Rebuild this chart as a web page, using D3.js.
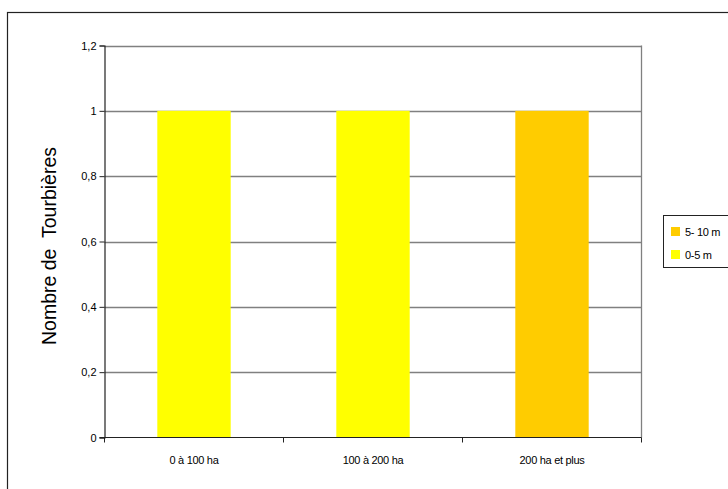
<!DOCTYPE html>
<html><head><meta charset="utf-8">
<script src="https://cdn.jsdelivr.net/npm/d3@7"></script>
<style>body{margin:0;background:#fff}svg{display:block;font-family:"Liberation Sans",Arial,sans-serif}</style>
</head><body>
<svg id="c" width="728" height="489"></svg>
<script>
const categories = ["0 à 100 ha", "100 à 200 ha", "200 ha et plus"];
const series05 = [1, 1, 0];
const series510 = [0, 0, 1];
const seriesNames = ["0-5 m", "5- 10 m"];
const seriesColors = ["#FFFF00", "#FFCC00"];
const yTicks = [0, 0.2, 0.4, 0.6, 0.8, 1, 1.2];
const yTickLabels = ["0", "0,2", "0,4", "0,6", "0,8", "1", "1,2"];

(function () {
const svg = d3.select("#c");
svg.append("rect").attr("x", 7.5).attr("y", 12.5).attr("width", 740).attr("height", 500)
  .attr("fill", "#fff").attr("stroke", "#222").attr("stroke-width", 1.2);

const pl = 104.5, pr = 641.5, pt = 45.5, pb = 437.5;
const x = d3.scaleBand().domain(categories).range([pl, pr]).paddingInner(0.59).paddingOuter(0.295);
const xb = d3.scaleBand().domain(categories).range([pl, pr]);
const y = d3.scaleLinear().domain([0, 1.2]).range([pb, pt]);

// gridlines
svg.append("g").selectAll("line").data(yTicks.filter(d => d > 0)).join("line")
  .attr("x1", pl).attr("x2", pr).attr("y1", d => Math.round(y(d)) + 0.5).attr("y2", d => Math.round(y(d)) + 0.5)
  .attr("stroke", "#808080").attr("stroke-width", 1.3);
svg.append("line").attr("x1", pr).attr("x2", pr).attr("y1", pt).attr("y2", pb)
  .attr("stroke", "#808080").attr("stroke-width", 1.3);

// stacked bars
const stackData = categories.map((c, i) => ({cat: c, s0: series05[i], s1: series510[i]}));
const stack = d3.stack().keys(["s0", "s1"])(stackData);
svg.append("g").selectAll("g").data(stack).join("g").attr("fill", (d, i) => seriesColors[i])
  .selectAll("rect").data(d => d).join("rect")
  .attr("x", d => x(d.data.cat)).attr("width", x.bandwidth())
  .attr("y", d => y(d[1])).attr("height", d => y(d[0]) - y(d[1]));

// y axis
const yAxis = d3.axisLeft(y).tickValues(yTicks).tickFormat((d, i) => yTickLabels[i]).tickSize(5).tickPadding(3);
const gy = svg.append("g").attr("transform", `translate(${pl},0)`).call(yAxis);
gy.select(".domain").attr("stroke", "#222").attr("stroke-width", 1.2);
gy.selectAll(".tick line").attr("stroke", "#222");
gy.selectAll("text").attr("font-size", 11).attr("fill", "#000").attr("font-family", "Liberation Sans, Arial");

// x axis
const gx = svg.append("g").attr("transform", `translate(0,${pb})`);
gx.append("line").attr("x1", pl - 5).attr("x2", pr).attr("y1", 0).attr("y2", 0).attr("stroke", "#222").attr("stroke-width", 1.2);
const bounds = [pl, ...categories.map(c => xb(c) + xb.bandwidth())];
gx.selectAll(".xt").data(bounds).join("line").attr("class", "xt")
  .attr("x1", d => d).attr("x2", d => d).attr("y1", 0).attr("y2", 5).attr("stroke", "#222");
gx.selectAll(".xl").data(categories).join("text").attr("class", "xl")
  .attr("x", d => xb(d) + xb.bandwidth() / 2).attr("y", 26).attr("text-anchor", "middle")
  .attr("font-size", 11).attr("letter-spacing", -0.3).text(d => d);

// y title
svg.append("text").attr("transform", "translate(56,246) rotate(-90)").attr("text-anchor", "middle")
  .attr("font-size", 19.5).style("white-space", "pre").text("Nombre de  Tourbières");

// legend
const lg = svg.append("g");
lg.append("rect").attr("x", 663.5).attr("y", 215.5).attr("width", 80).attr("height", 52)
  .attr("fill", "#fff").attr("stroke", "#222").attr("stroke-width", 1);
const legItems = [1, 0];
legItems.forEach((si, k) => {
  lg.append("rect").attr("x", 671).attr("y", 227 + k * 23).attr("width", 9).attr("height", 9).attr("fill", seriesColors[si]);
  lg.append("text").attr("x", 685).attr("y", 235.5 + k * 23).attr("font-size", 11).attr("letter-spacing", -0.3).text(seriesNames[si]);
});
})();
</script>
</body></html>
